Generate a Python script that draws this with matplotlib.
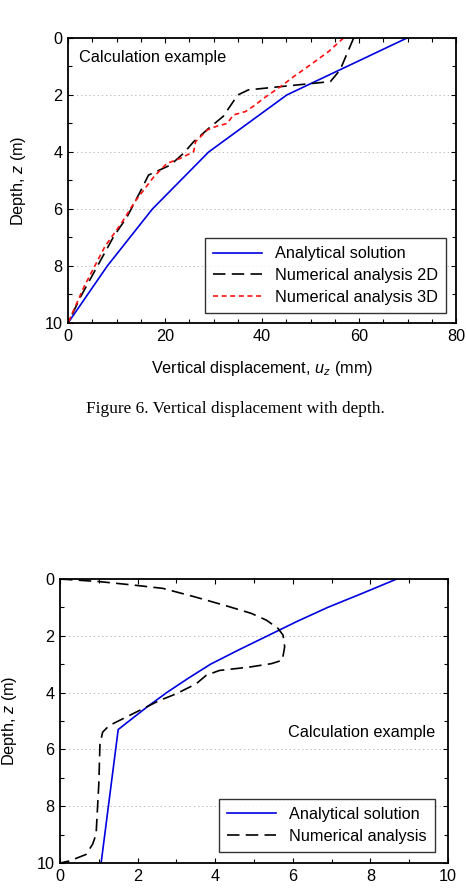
import matplotlib
matplotlib.use("Agg")
import matplotlib.pyplot as plt
from matplotlib.ticker import MultipleLocator

plt.rcParams['font.family'] = ['Liberation Sans', 'DejaVu Sans']
plt.rcParams['mathtext.fontset'] = 'custom'
plt.rcParams['mathtext.rm'] = 'Liberation Sans'
plt.rcParams['mathtext.it'] = 'Liberation Sans:italic'
plt.rcParams['lines.scale_dashes'] = False

# ---------------- data: top chart (vertical displacement, mm) ----------------
top_analytic_z = [0, 2, 4, 6, 8, 10]
top_analytic_u = [69.9, 45.1, 29.0, 17.4, 8.1, 0.0]

top_num2d_z = [0, 1.12, 1.53, 1.82, 2.0, 2.75, 3.17, 3.64, 4.05, 4.46, 4.81,
               5.39, 6.27, 6.97, 9.08, 10]
top_num2d_u = [58.9, 56.1, 54.1, 37.2, 35.0, 32.0, 29.0, 25.9, 23.8, 21.1, 16.6,
               14.9, 12.2, 9.4, 2.6, 0.0]

top_num3d_z = [0, 0.48, 0.95, 1.36, 1.71, 2.12, 2.35, 2.58, 2.7, 3.0, 3.11, 3.23,
               3.64, 3.99, 4.22, 4.4, 4.87, 5.74, 6.5, 7.32, 8.73, 10]
top_num3d_u = [56.8, 53.7, 49.9, 46.5, 43.8, 40.3, 38.6, 36.6, 34.1, 32.8, 30.4, 28.7,
               26.3, 25.9, 23.2, 20.4, 17.7, 13.8, 11.0, 7.6, 3.3, 0.0]

# ---------------- data: bottom chart ----------------
bot_analytic_z = [0, 0.5, 1.0, 1.5, 2.0, 2.5, 3.0, 3.5, 4.0, 4.5, 5.0, 5.3, 10]
bot_analytic_u = [8.68, 7.8, 6.9, 6.1, 5.35, 4.6, 3.88, 3.3, 2.75, 2.25, 1.78, 1.5, 1.06]

bot_num_z = [0, 0.09, 0.21, 0.33, 0.62, 0.95, 1.21, 1.45, 1.74, 1.98, 2.39, 2.86,
             2.98, 3.1, 3.22, 3.39, 3.69, 4.04, 4.28, 4.75, 5.16, 5.39, 5.81, 7.22,
             8.99, 9.34, 9.7, 9.93, 10]
bot_num_u = [0.0, 1.0, 1.87, 2.65, 3.45, 4.3, 4.93, 5.32, 5.62, 5.75, 5.79, 5.73,
             5.45, 4.89, 4.11, 3.77, 3.51, 3.0, 2.56, 1.87, 1.27, 1.10, 1.03, 1.0,
             0.93, 0.84, 0.67, 0.24, 0.0]

labels_top = ["Analytical solution", "Numerical analysis 2D", "Numerical analysis 3D"]
labels_bot = ["Analytical solution", "Numerical analysis"]
caption = "Figure 6. Vertical displacement with depth."

W, H = 466, 896
fig = plt.figure(figsize=(W / 100, H / 100), dpi=100)

def px_axes(l, t, r, b):
    return fig.add_axes([l / W, 1 - b / H, (r - l) / W, (b - t) / H])

BLUE = '#0000e0'
FS = 11.7

def style(ax, xmax, xmajor, xminor):
    ax.set_xlim(0, xmax)
    ax.set_ylim(10, 0)
    ax.xaxis.set_major_locator(MultipleLocator(xmajor))
    ax.xaxis.set_minor_locator(MultipleLocator(xminor))
    ax.yaxis.set_major_locator(MultipleLocator(2))
    ax.yaxis.set_minor_locator(MultipleLocator(1))
    ax.tick_params(which='both', direction='in', top=True, right=True,
                   labelsize=FS, width=0.8, colors='black', pad=4)
    ax.tick_params(which='major', length=3.5)
    ax.tick_params(which='minor', length=3)
    for s in ax.spines.values():
        s.set_linewidth(1.3)
    ax.grid(axis='y', which='major', linestyle=(0, (1, 2)), color='#bdbdbd', linewidth=0.7)
    ax.set_axisbelow(True)

def legend(ax, anchor):
    leg = ax.legend(loc='lower right', bbox_to_anchor=anchor, borderaxespad=0,
                    fontsize=FS, frameon=True, fancybox=False, handlelength=3.0,
                    handletextpad=0.8, labelspacing=0.42, borderpad=0.5)
    leg.get_frame().set_edgecolor('black')
    leg.get_frame().set_linewidth(1.0)
    return leg

# ---------------- top chart ----------------
ax1 = px_axes(68, 38, 456, 323)
style(ax1, 80, 20, 5)
ax1.plot(top_analytic_u, top_analytic_z, color=BLUE, lw=1.2, label=labels_top[0])
ax1.plot(top_num2d_u, top_num2d_z, color='black', lw=1.2, dashes=(9, 4.5), label=labels_top[1])
ax1.plot(top_num3d_u, top_num3d_z, color='#ff1010', lw=1.2, dashes=(3.6, 2.6), label=labels_top[2])
ax1.set_xlabel("Vertical displacement, $u_z$ (mm)", fontsize=FS, labelpad=11)
ax1.set_ylabel("Depth, $z$ (m)", fontsize=FS)
ax1.yaxis.set_label_coords(-0.103, 0.5)
ax1.text(0.028, 0.933, "Calculation example", transform=ax1.transAxes,
         fontsize=FS, ha='left', va='center')
legend(ax1, (0.974, 0.035))

fig.text(0.505, 1 - 409 / H, caption, family=['Liberation Serif', 'DejaVu Serif'],
         fontsize=12.4, ha='center', va='center')

# ---------------- bottom chart ----------------
ax2 = px_axes(60, 579, 448, 863)
style(ax2, 10, 2, 1)
ax2.plot(bot_analytic_u, bot_analytic_z, color=BLUE, lw=1.2, label=labels_bot[0])
ax2.plot(bot_num_u, bot_num_z, color='black', lw=1.2, dashes=(9, 4.5), label=labels_bot[1])
ax2.set_ylabel("Depth, $z$ (m)", fontsize=FS)
ax2.yaxis.set_label_coords(-0.105, 0.5)
ax2.text(0.588, 0.461, "Calculation example", transform=ax2.transAxes,
         fontsize=FS, ha='left', va='center')
legend(ax2, (0.966, 0.039))

fig.savefig("out.png", dpi=100)
